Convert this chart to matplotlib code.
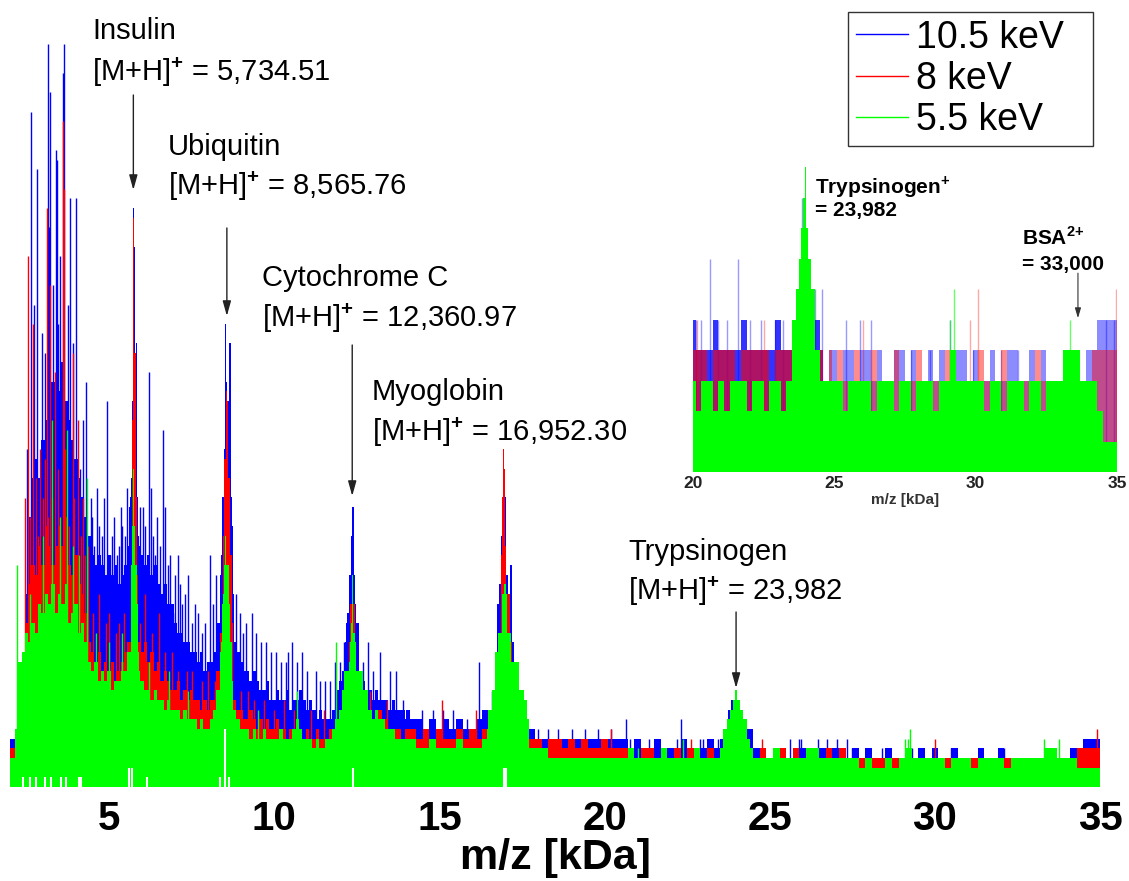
import numpy as np
import matplotlib
matplotlib.use("Agg")
import matplotlib.pyplot as plt

plt.rcParams['font.family'] = ['Liberation Sans', 'DejaVu Sans']
plt.rcParams['mathtext.fontset'] = 'custom'
plt.rcParams['mathtext.rm'] = 'Liberation Sans'
plt.rcParams['mathtext.bf'] = 'Liberation Sans:bold'

# ---------------- data (counts vs m/z in kDa) ----------------
series_labels = ['10.5 keV', '8 keV', '5.5 keV']
series_colors = ['#0000ff', '#ff0000', '#00ff00']

# dense region 2.0 .. 14.0 kDa, 0.1 kDa bins
dense_x = np.round(np.arange(2.0, 14.05, 0.1), 2)
blue_dense = [5, 5, 5, 8, 12, 20, 28, 32, 34, 32, 36, 38, 40, 42, 40, 41, 44, 40, 38, 36,
              34, 32, 30, 28, 26, 24, 23, 24, 23, 22, 24, 22, 23, 21, 22, 23, 25, 30, 28, 25,
              24, 23, 24, 22, 23, 21, 20, 21, 19, 19, 17, 16, 16, 15, 15, 14, 14, 13, 14, 12,
              13, 13, 14, 17, 22, 30, 28, 20, 15, 14, 13, 12, 12, 11, 12, 11, 10, 10, 11, 9,
              9, 10, 9, 9, 10, 8, 9, 9, 10, 9, 8, 9, 8, 7, 8, 7, 7, 7, 8, 10,
              11, 12, 15, 20, 22, 16, 12, 11, 10, 10, 9, 10, 9, 9, 9, 8, 9, 8, 8, 8, 7]
red_dense = [4, 4, 5, 7, 11, 17, 21, 23, 22, 25, 23, 27, 25, 23, 25, 27, 25, 28, 23, 22,
             24, 21, 20, 18, 15, 14, 13, 14, 12, 13, 12, 13, 11, 12, 13, 14, 15, 20, 18, 15,
             14, 15, 13, 14, 12, 13, 11, 12, 11, 10, 10, 11, 9, 10, 9, 10, 9, 9, 8, 9,
             8, 9, 9, 12, 16, 22, 20, 12, 9, 8, 8, 7, 7, 8, 7, 6, 7, 6, 7, 6,
             6, 7, 6, 6, 5, 6, 6, 5, 6, 5, 6, 5, 5, 6, 5, 5, 5, 6, 6, 7,
             8, 9, 11, 15, 16, 12, 9, 8, 7, 8, 7, 7, 8, 6, 7, 6, 6, 6, 6, 5, 6]
green_dense = [3, 3, 6, 13, 14, 16, 15, 17, 16, 19, 18, 20, 19, 21, 18, 20, 19, 21, 17, 18,
               19, 16, 17, 15, 13, 12, 13, 11, 12, 11, 12, 10, 11, 11, 12, 12, 14, 18, 16, 12,
               11, 10, 10, 9, 10, 9, 9, 8, 9, 8, 8, 8, 7, 8, 7, 7, 7, 6, 7, 6,
               6, 7, 8, 10, 14, 20, 18, 11, 8, 7, 6, 6, 6, 5, 6, 5, 5, 6, 5, 5,
               5, 5, 6, 5, 5, 5, 6, 7, 6, 5, 5, 5, 4, 5, 4, 4, 5, 5, 6, 7,
               8, 9, 10, 13, 14, 11, 9, 8, 8, 8, 7, 8, 7, 7, 6, 6, 6, 5, 5, 5, 5]

# tail region 14.0 .. 35.0 kDa, 0.2 kDa bins
tail_x = np.round(np.arange(14.0, 35.01, 0.2), 2)
blue_tail = [8, 7, 7, 6, 7, 6, 7, 6, 7, 6, 6, 7, 8, 8, 9, 9, 9, 8, 7, 6, 5, 5, 5,
             5, 5, 5, 5, 5, 5, 5, 5, 5, 5, 5, 4, 5, 4, 4, 5, 4, 4, 4, 5, 4, 4, 4, 5, 4,
             5, 6, 6, 6, 5, 4, 4, 3, 4, 4, 3, 4, 4, 4, 4, 4, 3, 4, 4, 3, 4,
             3, 4, 3, 3, 4, 3, 3, 4, 3, 4, 3, 4, 3, 3, 4, 3, 3, 3, 4, 3, 3, 4, 3, 3, 3, 3, 3,
             3, 3, 3, 3, 3, 4, 4, 5, 5, 5]
red_tail = [6, 6, 5, 6, 5, 6, 5, 5, 6, 5, 6, 5, 6, 6, 7, 7, 7, 6, 6, 5, 5, 4, 5,
            5, 4, 5, 4, 5, 4, 4, 5, 4, 4, 4, 4, 3, 4, 4, 3, 4, 3, 4, 3, 4, 4, 3, 4, 3,
            4, 5, 5, 5, 4, 3, 4, 3, 3, 4, 3, 4, 3, 3, 3, 3, 4, 3, 4, 3, 3,
            3, 2, 3, 3, 2, 3, 3, 3, 3, 3, 3, 3, 3, 3, 3, 3, 3, 3, 3, 3, 3, 3, 3, 3, 3, 3, 3,
            3, 3, 3, 3, 3, 3, 4, 4, 4, 4]
green_tail = [5, 5, 4, 4, 5, 4, 4, 4, 5, 4, 4, 4, 5, 5, 6, 6, 6, 6, 5, 4, 4, 4, 3,
              3, 3, 3, 3, 3, 3, 3, 3, 3, 3, 3, 4, 3, 3, 3, 3, 4, 3, 3, 3, 3, 4, 3, 3, 3,
              4, 5, 5, 5, 4, 3, 3, 3, 4, 3, 3, 3, 3, 4, 4, 3, 3, 3, 3, 3, 3,
              2, 3, 2, 2, 3, 2, 3, 4, 3, 3, 3, 3, 3, 2, 3, 3, 3, 2, 3, 3, 3, 3, 2, 3, 3, 3, 3,
              3, 4, 4, 3, 3, 3, 2, 2, 2, 2]

# protein peak profiles
blue_peak_x = [5.60, 5.65, 5.68, 5.72, 5.75, 5.77, 5.80, 5.83, 5.86, 5.90,
               8.40, 8.45, 8.49, 8.53, 8.56, 8.60, 8.63, 8.66, 8.70, 8.74, 8.78,
               12.17, 12.25, 12.30, 12.34, 12.39, 12.42, 12.46, 12.52, 12.56,
               16.70, 16.78, 16.84, 16.88, 16.91, 16.94, 16.97, 17.00, 17.05, 17.10, 17.16, 17.22, 17.30, 17.40,
               23.60, 23.70, 23.80, 23.88, 23.95, 24.05, 24.15, 24.25, 24.35, 24.49]
blue_peak_y = [29, 30, 32, 40, 60, 56, 38, 46, 30, 26,
               24, 30, 35, 48, 42, 38, 40, 46, 30, 27, 20,
               17, 18, 22, 26, 29, 22, 19, 17, 17,
               14, 19, 21, 26, 28, 35, 30, 30, 22, 20, 23, 15, 12, 9,
               5, 6, 8, 9, 8, 7, 8, 7, 6, 6]
red_peak_x = [5.68, 5.72, 5.75, 5.78, 5.82, 5.87,
              8.45, 8.50, 8.55, 8.58, 8.62, 8.68, 8.75,
              12.28, 12.33, 12.37, 12.41, 12.47,
              16.75, 16.82, 16.88, 16.92, 16.94, 16.96, 17.00, 17.05, 17.10, 17.15, 17.25, 17.35,
              23.80, 23.90, 24.00, 24.10]
red_peak_y = [28, 38, 59, 45, 30, 22,
              26, 34, 41, 40, 32, 24, 17,
              17, 19, 21, 19, 15,
              12, 16, 24, 30, 35, 33, 25, 20, 20, 15, 12, 9,
              6, 7, 8, 6]
green_peak_x = [5.65, 5.69, 5.72, 5.75, 5.78, 5.81, 5.85, 5.90,
                8.40, 8.45, 8.49, 8.52, 8.56, 8.60, 8.64, 8.70, 8.76,
                12.05, 12.15, 12.27, 12.30, 12.34, 12.37, 12.41, 12.45, 12.52, 12.62, 12.75, 12.85,
                16.43, 16.53, 16.63, 16.73, 16.80, 16.88, 16.94, 16.99, 17.03, 17.08, 17.14, 17.22,
                17.30, 17.38, 17.45, 17.52, 17.60, 17.70,
                23.55, 23.65, 23.75, 23.85, 23.92, 23.98, 24.05, 24.15, 24.25, 24.35, 24.45]
green_peak_y = [18, 23, 27, 33, 27, 23, 19, 14,
                15, 19, 23, 26, 23, 23, 19, 15, 11,
                10, 12, 12, 15, 17, 22, 16, 15, 12, 12, 10, 10,
                6, 8, 10, 14, 16, 16, 20, 21, 20, 16, 16, 13,
                13, 13, 10, 10, 9, 7,
                4, 6, 7, 8, 9, 10, 9, 8, 7, 5, 4]

# individual noise spikes (x kDa, counts)
blue_spike_x = [2.63, 2.81, 2.98, 3.16, 3.19, 3.21, 3.38, 3.42, 3.45, 3.61, 3.64, 3.82, 4.00, 4.12, 4.30,
                2.50, 2.72, 3.05, 3.30, 3.52, 3.75, 3.92, 4.20,
                4.63, 4.78, 4.94, 5.10, 5.23, 4.45, 5.40,
                4.48, 4.55, 4.70, 4.85, 5.02, 5.15, 5.30, 5.35, 5.48, 5.55,
                5.68, 6.03, 6.21, 6.39, 6.63, 6.78, 6.93, 7.20, 7.50, 7.80, 8.05,
                5.95, 6.10, 6.27, 6.33, 6.45, 6.55, 6.70, 6.85, 7.00, 7.08, 7.15, 7.30, 7.40,
                7.60, 7.70, 7.90, 8.15, 8.25,
                8.85, 8.95, 9.15, 9.45, 9.75, 10.05, 10.35, 10.55, 10.85, 11.25, 11.55, 11.85,
                12.10, 12.85, 13.20, 13.70,
                9.05, 9.33, 9.60, 9.90, 10.20, 10.42, 10.70, 11.00, 11.40, 11.70, 12.00, 12.70, 13.00, 13.50,
                13.91, 14.06, 14.21, 14.46, 14.82, 15.12, 15.42, 15.83, 16.21, 16.58,
                18.00, 18.30, 18.60, 19.00, 19.40, 19.80, 20.20, 20.65, 20.77, 20.97, 21.35, 21.63,
                22.18, 22.30, 22.43, 22.89, 22.99, 23.44, 25.61, 25.89, 25.94, 26.47, 26.73, 27.03,
                27.33, 27.50, 28.40, 28.60, 29.30, 30.00, 30.50, 31.40, 32.10, 34.60, 34.95]
blue_spike_y = [70, 64, 47, 77, 58, 72, 66, 65, 48, 74, 77, 61, 61, 33, 42,
                35, 50, 45, 52, 55, 50, 46, 38,
                31, 26, 40, 26, 24, 30, 27,
                28, 25, 27, 30, 24, 28, 25, 29, 26, 31,
                32, 29, 43, 24, 37, 23, 18, 19, 17, 16, 24,
                29, 27, 31, 26, 28, 25, 29, 24, 22, 24, 21, 20, 22,
                19, 18, 17, 19, 22,
                20, 18, 17, 16, 15, 14, 13, 15, 14, 12, 11, 13,
                15, 15, 14, 12,
                16, 18, 15, 14, 13, 14, 13, 12, 11, 11, 13, 13, 12, 12,
                9, 8, 7, 8, 8, 8, 8, 7, 13, 10,
                6, 6, 6, 6, 6, 6, 6, 7, 5, 5, 5, 5,
                5, 7, 5, 5, 5, 5, 5, 5, 5, 5, 5, 5,
                5, 4, 4, 4, 4, 4, 4, 4, 4, 5, 5]
red_spike_x = [2.55, 2.70, 2.90, 3.00, 3.11, 3.20, 3.37, 3.59, 3.62, 3.90, 4.05, 4.20, 4.35,
               2.45, 2.62, 2.78, 2.85, 3.05, 3.15, 3.28, 3.45, 3.50, 3.68, 3.78, 3.95, 4.15, 4.28,
               4.50, 4.90, 5.20, 5.45, 5.95, 6.30, 6.70, 7.10, 7.35, 7.80, 8.20,
               9.00, 9.40, 10.00, 10.60, 11.50,
               4.70, 5.00, 5.30, 6.10, 6.50, 6.90, 7.50, 8.00, 9.20, 9.70, 10.30, 11.10,
               12.90, 13.40, 15.07, 16.10, 20.19, 22.63, 24.76, 30.00, 34.90]
red_spike_y = [55, 48, 35, 30, 60, 52, 43, 69, 62, 45, 38, 30, 25,
               30, 28, 32, 26, 34, 28, 30, 33, 28, 35, 27, 30, 26, 24,
               18, 17, 16, 18, 17, 16, 14, 12, 12, 11, 11,
               10, 9, 8, 8, 8,
               20, 18, 17, 20, 18, 14, 12, 12, 10, 9, 9, 8,
               10, 9, 9, 8, 6, 5, 5, 5, 6]
green_spike_x = [2.22, 2.60, 3.00, 3.26, 3.50, 3.72, 3.90, 4.10, 4.32, 4.60, 5.00, 5.40,
                 6.20, 6.80, 7.40, 9.50, 10.70, 11.86, 20.80, 21.00, 22.38, 29.10, 29.20,
                 29.25, 33.30, 33.45, 33.55, 33.75]
green_spike_y = [23, 20, 26, 38, 28, 37, 25, 24, 32, 16, 15, 16,
                 13, 12, 10, 8, 10, 15, 4, 4, 5, 5, 5,
                 6, 5, 4, 4, 5]

# positions where all channels drop to ~0 (dead time after strong signals)
dropout_x = [2.40, 2.62, 2.78, 3.05, 3.25, 3.55, 3.70, 4.10, 4.14, 5.60, 5.70, 6.15,
             8.36, 8.50, 8.62, 12.37, 16.97, 17.02]
dropout_y = [1, 1, 1, 1, 1, 1, 1, 1, 1, 2, 2, 1, 1, 6, 1, 2, 2, 2]

# annotation values
insulin_mz, ubiquitin_mz, cytc_mz, myo_mz, tryp_mz = 5.73451, 8.56576, 12.36097, 16.9523, 23.982

# inset (20-35 kDa), 0.2 kDa bins
inset_x = np.round(np.arange(20.0, 35.01, 0.2), 2)
inset_green = [3, 2, 3, 3, 2, 3, 2, 3, 3, 3, 2, 3, 3, 2, 3, 3, 2, 3,
               5, 6, 7, 6, 4, 3,
               3, 3, 3, 2, 3, 3, 3, 3, 2, 3, 3,
               3, 2, 3, 3, 2, 3, 3, 3, 2, 3, 3, 4, 3, 3, 3, 3, 3, 2, 3, 3, 2, 3, 3, 3, 2, 3, 3, 2, 3,
               3, 3, 4, 4, 4, 3,
               3, 3, 2,
               1, 1, 1]
inset_red = [4, 4, 4, 3, 4, 4, 4, 4, 3, 4, 4, 4, 4, 4, 3, 4, 4, 4,
             4, 4, 4, 4, 4, 4,
             4, 3, 4, 3, 3, 4, 3, 3, 4, 3, 3,
             3, 4, 3, 3, 3, 4, 3, 3, 3, 3, 4, 3, 3, 3, 3, 3, 4, 3, 3, 3, 4, 3, 3, 3, 3, 3, 4, 3, 3,
             3, 3, 3, 3, 3, 3,
             3, 4, 4,
             4, 4, 4]
inset_blue = [5, 4, 4, 4, 5, 4, 4, 4, 4, 5, 4, 4, 4, 4, 4, 5, 4, 4,
              4, 5, 5, 5, 5, 4,
              4, 4, 3, 4, 4, 3, 4, 4, 3, 4, 3,
              3, 4, 4, 3, 4, 3, 3, 4, 3, 4, 3, 3, 4, 4, 3, 4, 3, 3, 4, 3, 3, 4, 4, 3, 3, 4, 3, 4, 3,
              3, 3, 3, 3, 3, 3,
              4, 4, 5,
              5, 5, 5]
inset_peak_x = [23.60, 23.70, 23.78, 23.85, 23.92, 23.98, 24.05, 24.12, 24.20, 24.28, 24.38]
inset_peak_y = [5, 6, 7, 8, 9, 10, 8, 7, 6, 5, 4]
inset_blue_spike_x = [20.10, 20.30, 20.60, 20.90, 21.20, 21.60, 22.00, 22.40, 22.90, 23.20, 23.85, 24.30,
                      24.55, 25.40, 25.90, 26.30, 27.70, 28.40, 29.10, 29.90, 30.90, 31.50, 34.60, 34.90]
inset_blue_spike_y = [5, 5, 7, 5, 5, 7, 5, 5, 5, 5, 9, 6, 6, 5, 5, 5, 4, 4, 5, 4, 4, 4, 5, 5]
inset_red_spike_x = [20.15, 22.50, 26.00, 29.80, 30.10, 34.95]
inset_red_spike_y = [5, 5, 5, 5, 6, 6]
inset_green_spike_x = [29.10, 29.25, 33.35]
inset_green_spike_y = [5, 6, 5]

# ---------------- figure ----------------
W, H = 1129, 881
fig = plt.figure(figsize=(W / 100, H / 100), dpi=100)


def fx(px):
    return px / W


def fy(py):
    return 1 - py / H


def groups(xs, ys, gap=0.4):
    """split a peak list into separate peaks wherever x jumps by more than gap"""
    out, cx, cy = [], [xs[0]], [ys[0]]
    for a, b in zip(xs[1:], ys[1:]):
        if a - cx[-1] > gap:
            out.append((cx, cy))
            cx, cy = [], []
        cx.append(a)
        cy.append(b)
    out.append((cx, cy))
    return out


ax = fig.add_axes([fx(10), fy(787), fx(1100) - fx(10), fy(15) - fy(787)])
ax.set_xlim(2, 35)
ax.set_ylim(0, 80)

floors = [(blue_dense, blue_tail), (red_dense, red_tail), (green_dense, green_tail)]
peaks = [(blue_peak_x, blue_peak_y), (red_peak_x, red_peak_y), (green_peak_x, green_peak_y)]
spikes = [(blue_spike_x, blue_spike_y), (red_spike_x, red_spike_y), (green_spike_x, green_spike_y)]

handles = []
for i, c in enumerate(series_colors):
    z = i + 1
    dense_v, tail_v = floors[i]
    ax.fill_between(dense_x, 0, dense_v, step='mid', color=c, lw=0, zorder=z)
    ax.fill_between(tail_x, 0, tail_v, step='mid', color=c, lw=0, zorder=z)
    for gx, gy in groups(*peaks[i]):
        ax.fill_between(gx, 0, gy, step='mid', color=c, lw=0, zorder=z)
    sx, sy = spikes[i]
    ax.vlines(sx, 0, sy, colors=c, lw=1.0, zorder=z)
    h, = ax.plot([], [], color=c, lw=1, label=series_labels[i])
    handles.append(h)

ax.vlines(dropout_x, 0, dropout_y, colors='white', lw=1.5, zorder=5)

for s in ax.spines.values():
    s.set_visible(False)
ax.set_yticks([])
ax.set_xticks([5, 10, 15, 20, 25, 30, 35])
ax.tick_params(axis='x', length=0, pad=9)
for t in ax.get_xticklabels():
    t.set_fontsize(29)
    t.set_fontweight('bold')
ax.set_xlabel('m/z [kDa]', fontsize=31, fontweight='bold', labelpad=0)

# annotations
lab_fs = 21


def dy(py):
    return (787 - py) / 9.65


txts = [("Insulin", "[M+H]$^{\\mathbf{+}}$ = 5,734.51", 92, 39, 81),
        ("Ubiquitin", "[M+H]$^{\\mathbf{+}}$ = 8,565.76", 168, 155, 195),
        ("Cytochrome C", "[M+H]$^{\\mathbf{+}}$ = 12,360.97", 262, 286, 327),
        ("Myoglobin", "[M+H]$^{\\mathbf{+}}$ = 16,952.30", 372, 400, 441),
        ("Trypsinogen", "[M+H]$^{\\mathbf{+}}$ = 23,982", 628, 560, 600)]
for name, formula, X, y1, y2 in txts:
    fig.text(fx(X), fy(y1), name, fontsize=lab_fs, va='baseline', ha='left')
    fig.text(fx(X), fy(y2), formula, fontsize=lab_fs, va='baseline', ha='left')

arrows = [(insulin_mz, 95, 190), (ubiquitin_mz, 228, 316), (cytc_mz, 345, 496), (tryp_mz, 612, 688)]
for mz, y0, y1 in arrows:
    ax.annotate('', xy=(mz, dy(y1)), xytext=(mz, dy(y0)),
                arrowprops=dict(arrowstyle='-|>,head_length=0.9,head_width=0.25', color='#222222', lw=1.0,
                                shrinkA=0, shrinkB=0),
                annotation_clip=False, zorder=10)

leg = fig.legend(handles=handles, loc='upper left',
                 bbox_to_anchor=(fx(848), fy(145), fx(1093) - fx(848), fy(12) - fy(145)),
                 mode='expand', fontsize=27, handlelength=1.4, handletextpad=0.2, labelspacing=0.14,
                 borderpad=0.2, borderaxespad=0, frameon=True, fancybox=False)
leg.get_frame().set_edgecolor('black')
leg.get_frame().set_linewidth(1.0)

# ---------------- inset ----------------
ins = fig.add_axes([fx(693), fy(472), fx(1117) - fx(693), fy(152) - fy(472)])
ins.set_xlim(20, 35)
ins.set_ylim(0, 10.5)
early = inset_x <= 24.6
ins.fill_between(inset_x, 0, inset_blue, where=early, step='mid', color='#0000ff', lw=0, alpha=0.8, zorder=1)
ins.fill_between(inset_x, 0, inset_blue, where=~early, step='mid', color='#0000ff', lw=0, alpha=0.45, zorder=1)
ins.vlines(inset_blue_spike_x, 0, inset_blue_spike_y, colors='#0000ff', lw=1, alpha=0.4, zorder=1)
ins.fill_between(inset_x, 0, inset_red, where=early, step='mid', color='#ff0000', lw=0, alpha=0.6, zorder=2)
ins.fill_between(inset_x, 0, inset_red, where=~early, step='mid', color='#ff0000', lw=0, alpha=0.45, zorder=2)
ins.vlines(inset_red_spike_x, 0, inset_red_spike_y, colors='#ff0000', lw=1, alpha=0.35, zorder=2)
ins.fill_between(inset_x, 0, inset_green, step='mid', color='#00ff00', lw=0, zorder=3)
ins.fill_between(inset_peak_x, 0, inset_peak_y, step='mid', color='#00ff00', lw=0, zorder=3)
ins.vlines(inset_green_spike_x, 0, inset_green_spike_y, colors='#00ff00', lw=1, alpha=0.6, zorder=3)
for s in ins.spines.values():
    s.set_visible(False)
ins.set_yticks([])
ins.set_xticks([20, 25, 30, 35])
ins.tick_params(axis='x', length=0, pad=3, labelsize=12.5, labelcolor='#222222')
for t in ins.get_xticklabels():
    t.set_fontweight('bold')
ins.set_xlabel('m/z [kDa]', fontsize=11, fontweight='bold', color='#333333', labelpad=1)
ins.patch.set_alpha(0)


def ix(px):
    return 20 + (px - 693) / 28.27


def iy(py):
    return (472 - py) / 30.5


ins.text(ix(815), iy(193), 'Trypsinogen$^{\\mathbf{+}}$', fontsize=15, fontweight='bold', va='baseline')
ins.text(ix(815), iy(216), '= 23,982', fontsize=15, fontweight='bold', va='baseline')
ins.text(ix(1022), iy(245), 'BSA$^{\\mathbf{2{+}}}$', fontsize=15, fontweight='bold', va='baseline')
ins.text(ix(1022), iy(270), '= 33,000', fontsize=15, fontweight='bold', va='baseline')
ins.annotate('', xy=(ix(1078), iy(318)), xytext=(ix(1078), iy(273)),
             arrowprops=dict(arrowstyle='-|>,head_length=0.6,head_width=0.18', color='#333333', lw=0.8,
                             shrinkA=0, shrinkB=0), annotation_clip=False)

fig.savefig('out.png', dpi=100)
